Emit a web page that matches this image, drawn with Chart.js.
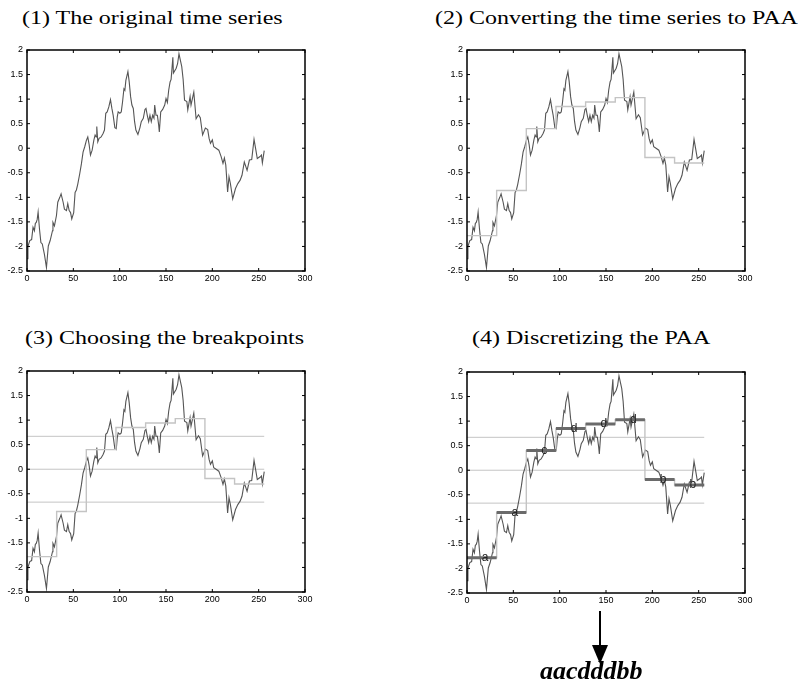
<!DOCTYPE html>
<html>
<head>
<meta charset="utf-8">
<script src="https://cdn.jsdelivr.net/npm/chart.js@4.4.1/dist/chart.umd.min.js"></script>
<style>
  html, body { margin:0; padding:0; background:#fff; }
  body { width:805px; height:684px; position:relative; overflow:hidden; }
  canvas { position:absolute; }
  .title { position:absolute; font-family:'Liberation Serif','Times New Roman',serif; font-size:19.5px; line-height:19px; color:#000; white-space:nowrap; transform:scaleX(1.23); transform-origin:0 0; }
  svg { position:absolute; left:0; top:0; }
</style>
</head>
<body>
<div class="title" style="left:22px; top:8px;">(1) The original time series</div>
<div class="title" style="left:435px; top:8px;">(2) Converting the time series to PAA</div>
<div class="title" style="left:25px; top:328px;">(3) Choosing the breakpoints</div>
<div class="title" style="left:472px; top:328px;">(4) Discretizing the PAA</div>
<canvas id="c1" width="320" height="250" style="left:0px; top:40px;"></canvas>
<canvas id="c2" width="320" height="250" style="left:440px; top:40px;"></canvas>
<canvas id="c3" width="320" height="250" style="left:0px; top:361px;"></canvas>
<canvas id="c4" width="320" height="250" style="left:440px; top:361.5px;"></canvas>
<svg width="805" height="684">
  <line x1="600" y1="611" x2="600" y2="648" stroke="#000" stroke-width="2"/>
  <polygon points="592,645 608,645 600,664" fill="#000"/>
  <text id="word" x="540" y="679" font-family="Liberation Serif, Times New Roman, serif" font-size="26" font-weight="bold" font-style="italic" fill="#000"></text>
</svg>
<script>
// ---------------- DATA ----------------
const seriesT = [0,1,3,5,6.5,8,9,10,11,12,13.5,15,16.5,18.8,21,23,25,27.5,28,29.6,31.8,33.2,35.4,36.8,39,40.4,42.6,44,45.5,47,48.3,50.4,51.9,53.3,54.8,56.9,58.7,60.5,62.3,64.1,65.6,67,68.5,70.3,72.1,73.5,74.6,75.3,76.4,77.8,80,82.1,83.6,85,86.5,88.3,90.1,91.6,93,94.8,96.3,97.4,98.4,100.2,101.7,103.1,104.6,105.6,106.7,108.9,110.3,111.8,113.2,114.7,116.1,117.5,119.7,121.9,123.3,125.5,127.3,128.4,129.8,131.3,132.7,134.1,135.6,137,137.8,139.2,140.7,142.1,142.8,144.3,146.4,148.6,150,151.5,152.9,154.4,155.5,157.4,158,161,162.5,164,167,168.5,170,172.5,173.5,176,177,180,182.5,185,187,189.5,192.5,195,196.5,198,200,201.5,204,207,209.5,211.5,213,214.5,216.5,218,219.5,222,225,227.5,230,232,234.5,237.5,240,242.5,245,247,248.5,251.5,253,254,256];
const seriesV = [-2.25,-2.0,-1.88,-1.86,-1.61,-1.68,-1.53,-1.51,-1.45,-1.3,-1.65,-1.92,-1.95,-2.16,-2.43,-1.99,-1.88,-1.68,-1.51,-1.58,-1.37,-1.1,-1.0,-0.93,-1.1,-1.24,-1.27,-1.13,-1.27,-1.31,-1.44,-1.31,-0.9,-0.85,-0.73,-0.52,-0.32,-0.08,0.03,0.16,0.23,0.08,-0.14,-0.04,0.16,0.27,0.23,0.44,0.13,0.2,0.23,0.3,0.37,0.71,0.74,0.84,0.99,0.81,0.67,0.42,0.4,0.64,0.74,0.71,0.74,0.94,1.21,1.18,1.38,1.56,1.35,1.05,0.88,0.81,0.54,0.37,0.28,0.42,0.54,0.61,0.79,0.81,0.67,0.54,0.67,0.54,0.67,0.61,0.88,0.67,0.67,0.47,0.33,0.74,0.79,0.88,1.01,0.93,1.18,1.35,1.4,1.85,1.53,1.63,1.72,1.92,1.66,1.4,0.98,0.95,0.78,1.05,0.88,1.14,0.6,0.68,0.62,0.27,0.41,0.38,0.2,0.1,0.17,0.03,0.0,-0.04,-0.17,-0.31,-0.2,-0.34,-0.89,-0.58,-0.72,-1.03,-0.82,-0.72,-0.65,-0.55,-0.28,-0.45,-0.24,-0.23,0.18,-0.04,-0.21,-0.17,-0.14,-0.3,-0.05];
const segStarts = [0,32,64,96,128,160,192,224];
const segEnd = 256;
const paaValues = [-1.78,-0.86,0.40,0.85,0.94,1.03,-0.19,-0.30];
const breakpoints = [-0.67, 0, 0.67];
const breakpointRange = [0, 256];
const letters = ['a','a','c','d','d','d','b','b'];
const xTicks = [0,50,100,150,200,250,300];
const yTicks = [-2.5,-2,-1.5,-1,-0.5,0,0.5,1,1.5,2];
const word = 'aacdddbb';
document.getElementById('word').textContent = word;

// ------------- builders -------------
const seriesPts = seriesT.map((t,i)=>({x:t, y:seriesV[i]}));
const paaPts = segStarts.map((s,i)=>({x:s, y:paaValues[i]})).concat([{x:segEnd, y:paaValues[paaValues.length-1]}]);
const thickPts = [];
segStarts.forEach((s,i)=>{
  const e = (i+1<segStarts.length) ? segStarts[i+1] : segEnd;
  thickPts.push({x:s,y:paaValues[i]},{x:e,y:paaValues[i]},{x:e,y:NaN});
});

const SERIES_COLOR = '#555555';
const LIGHT = '#c4c4c4';

function seriesDs(){ return {data:seriesPts, borderColor:SERIES_COLOR, borderWidth:1.1, pointRadius:0, order:3, tension:0}; }
function paaDs(){ return {data:paaPts, borderColor:LIGHT, borderWidth:1.4, pointRadius:0, stepped:'before', order:2}; }
function bpDs(){ return breakpoints.map(b=>({data:breakpointRange.map(x=>({x:x,y:b})), borderColor:LIGHT, borderWidth:1, pointRadius:0, order:4})); }
function thickDs(){ return {data:thickPts, borderColor:'#6a6a6a', borderWidth:3, pointRadius:0, spanGaps:false, order:1}; }

const framePlugin = {
  id:'frame',
  afterDraw(chart){
    const {ctx, chartArea:a, scales:{x,y}} = chart;
    ctx.save();
    ctx.strokeStyle = '#000';
    ctx.lineWidth = 1;
    ctx.beginPath();
    xTicks.forEach(v=>{ const px = x.getPixelForValue(v);
      ctx.moveTo(px,a.bottom); ctx.lineTo(px,a.bottom-3);
      ctx.moveTo(px,a.top); ctx.lineTo(px,a.top+3); });
    yTicks.forEach(v=>{ const py = y.getPixelForValue(v);
      ctx.moveTo(a.left,py); ctx.lineTo(a.left+3,py);
      ctx.moveTo(a.right,py); ctx.lineTo(a.right-3,py); });
    ctx.stroke();
    ctx.lineWidth = 1.5;
    ctx.strokeRect(a.left, a.top, a.right-a.left, a.bottom-a.top);
    if (chart.options.plugins.frame && chart.options.plugins.frame.letters) {
      ctx.fillStyle = '#222';
      ctx.font = '12px "Liberation Sans", Arial, sans-serif';
      ctx.textAlign = 'left';
      ctx.textBaseline = 'middle';
      segStarts.forEach((s,i)=>{
        const e = (i+1<segStarts.length) ? segStarts[i+1] : segEnd;
        ctx.fillText(letters[i], x.getPixelForValue((s+e)/2), y.getPixelForValue(paaValues[i]));
      });
    }
    ctx.restore();
  }
};

function makeChart(id, datasets, showLetters){
  return new Chart(document.getElementById(id), {
    type:'line',
    data:{datasets:datasets},
    options:{
      responsive:false, animation:false, devicePixelRatio:1,
      layout:{padding:{left:0, top:10, right:15, bottom:0}},
      plugins:{legend:{display:false}, tooltip:{enabled:false}, frame:{letters:showLetters}},
      scales:{
        x:{type:'linear', min:0, max:300,
           afterBuildTicks(s){ s.ticks = xTicks.map(v=>({value:v})); },
           afterFit(s){ s.height = 19; },
           grid:{display:false, drawTicks:false}, border:{display:false},
           ticks:{padding:2, maxRotation:0, autoSkip:false, color:'#000', font:{family:'"Liberation Sans", Arial, sans-serif', size:9}, callback:v=>String(v)}},
        y:{type:'linear', min:-2.5, max:2,
           afterBuildTicks(s){ s.ticks = yTicks.map(v=>({value:v})); },
           afterFit(s){ s.width = 27; },
           grid:{display:false, drawTicks:false}, border:{display:false},
           ticks:{padding:4, autoSkip:false, color:'#000', font:{family:'"Liberation Sans", Arial, sans-serif', size:9}, callback:v=>String(v)}}
      }
    },
    plugins:[framePlugin]
  });
}

makeChart('c1', [seriesDs()], false);
makeChart('c2', [seriesDs(), paaDs()], false);
makeChart('c3', [seriesDs(), paaDs()].concat(bpDs()), false);
makeChart('c4', [seriesDs(), paaDs(), thickDs()].concat(bpDs()), true);
</script>
</body>
</html>
